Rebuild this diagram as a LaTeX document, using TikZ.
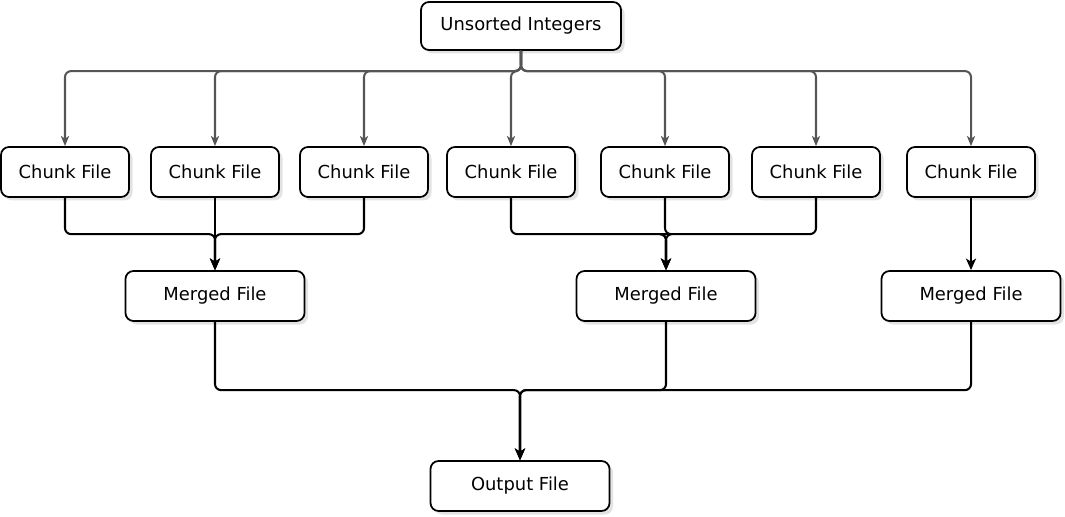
\documentclass[tikz,border=0pt]{standalone}
\usepackage{fontspec}
\setmainfont{DejaVu Sans}
\usepackage{xcolor}
\usepackage{tikz}
\usetikzlibrary{arrows.meta, positioning, calc, shadows}
\definecolor{mscolor0}{HTML}{FFFFFF}
\definecolor{mscolor1}{HTML}{000000}
\definecolor{mscolor2}{HTML}{555555}
\tikzset{
  box_default/.style={draw=mscolor1, fill=mscolor0, text=mscolor1, line width=1.0pt, rounded corners=0.16cm, minimum height=1.0cm, align=center, font=\fontsize{10.2}{12}\selectfont, drop shadow={opacity=0.22, shadow xshift=0.07cm, shadow yshift=-0.07cm}},
  box_source/.style={box_default, minimum width=4.0cm, minimum height=0.96cm},
  box_chunk/.style={box_default, minimum width=2.56cm},
  box_merged/.style={box_default, minimum width=3.58cm},
  edge_split/.style={color=mscolor2, line width=1.15pt, rounded corners=0.12cm, -{Stealth[length=0.2cm, width=0.16cm, inset=0.05cm]}},
  edge_merge/.style={color=mscolor1, line width=1.15pt, rounded corners=0.12cm, -{Stealth[length=0.23cm, width=0.2cm, inset=0.06cm]}}
}
\begin{document}
\begin{tikzpicture}[x=1cm, y=1cm]
\useasboundingbox (0,0) rectangle (21.30,-10.34);
\node[box_source] (source_node) at (10.42,-0.52) {Unsorted Integers};
\node[box_chunk] (chunk_1) at (1.30,-3.44) {Chunk File};
\node[box_chunk] (chunk_2) at (4.30,-3.44) {Chunk File};
\node[box_chunk] (chunk_3) at (7.28,-3.44) {Chunk File};
\node[box_chunk] (chunk_4) at (10.22,-3.44) {Chunk File};
\node[box_chunk] (chunk_5) at (13.30,-3.44) {Chunk File};
\node[box_chunk] (chunk_6) at (16.32,-3.44) {Chunk File};
\node[box_chunk] (chunk_7) at (19.42,-3.44) {Chunk File};
\node[box_merged] (merged_1) at (4.30,-5.92) {Merged File};
\node[box_merged] (merged_2) at (13.32,-5.92) {Merged File};
\node[box_merged] (merged_3) at (19.42,-5.92) {Merged File};
\node[box_merged] (output_node) at (10.40,-9.72) {Output File};
\foreach \i in {1,...,7}
  \draw[edge_split] (source_node.south) |- ($(chunk_\i.north)+(0,1.50)$) -- (chunk_\i.north);
\foreach \c/\m in {1/1, 2/1, 3/1, 4/2, 5/2, 6/2, 7/3}
  \draw[edge_merge] (chunk_\c.south) |- ($(merged_\m.north)+(0,0.72)$) -- (merged_\m.north);
\foreach \m in {1,2,3}
  \draw[edge_merge] (merged_\m.south) |- ($(output_node.north)+(0,1.40)$) -- (output_node.north);
\end{tikzpicture}
\end{document}
